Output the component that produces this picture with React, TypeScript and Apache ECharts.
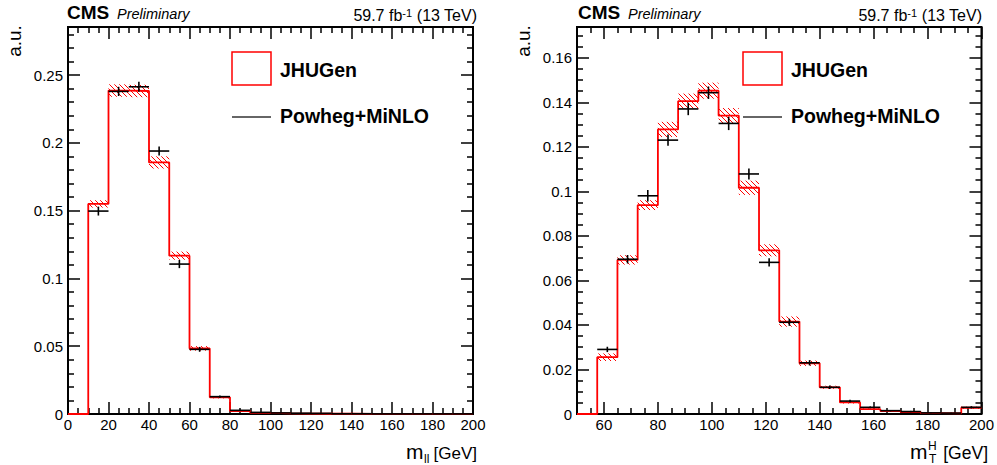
import React, { useEffect, useRef } from 'react';
import * as echarts from 'echarts';

const FONT = '"Liberation Sans", Arial, Helvetica, sans-serif';

// ---------- Left panel: m_ll ----------
const mllEdges = [0, 10, 20, 30, 40, 50, 60, 70, 80, 90, 100, 110, 120, 130, 140, 150, 160, 170, 180, 190, 200];
const mllJhu = [0, 0.155, 0.2386, 0.2383, 0.1856, 0.1168, 0.0484, 0.0123, 0.0022, 0.0008, 0.0004, 0.0003, 0.0002, 0.0002, 0.0001, 0.0001, 0.0001, 0.0001, 0.0001, 0.0001];
const mllJhuErr = [0, 0.0027, 0.0046, 0.0046, 0.0045, 0.003, 0.0017, 0.0008, 0.0003, 0.0002, 0.0001, 0.0001, 0.0001, 0.0001, 0.0001, 0.0001, 0.0001, 0.0001, 0.0001, 0.0001];
const mllPowheg = [0, 0.1497, 0.238, 0.2414, 0.194, 0.1106, 0.0477, 0.0128, 0.0027, 0.0012, 0.0008, 0.0006, 0.0005, 0.0002, 0.0002, 0.0001, 0.0001, 0.0001, 0.0001, 0.0001];
const mllPowhegErr = [0, 0.0033, 0.0034, 0.0037, 0.0033, 0.003, 0.0018, 0.0009, 0.0004, 0.0003, 0.0002, 0.0002, 0.0002, 0.0001, 0.0001, 0.0001, 0.0001, 0.0001, 0.0001, 0.0001];
const mllXMajor = [0, 20, 40, 60, 80, 100, 120, 140, 160, 180, 200];
const mllXMinor = [5, 10, 15, 25, 30, 35, 45, 50, 55, 65, 70, 75, 85, 90, 95, 105, 110, 115, 125, 130, 135, 145, 150, 155, 165, 170, 175, 185, 190, 195];
const mllYMajor = [0, 0.05, 0.1, 0.15, 0.2, 0.25];
const mllYMinor = [0.01, 0.02, 0.03, 0.04, 0.06, 0.07, 0.08, 0.09, 0.11, 0.12, 0.13, 0.14, 0.16, 0.17, 0.18, 0.19, 0.21, 0.22, 0.23, 0.24, 0.26, 0.27, 0.28];
const mllYMax = 0.2855;

// ---------- Right panel: m_T^H ----------
const mthEdges = [50, 57.5, 65, 72.5, 80, 87.5, 95, 102.5, 110, 117.5, 125, 132.5, 140, 147.5, 155, 162.5, 170, 177.5, 185, 192.5, 200];
const mthJhu = [0, 0.0255, 0.0692, 0.0938, 0.1278, 0.1405, 0.1452, 0.134, 0.1016, 0.0735, 0.0415, 0.0228, 0.012, 0.0052, 0.0022, 0.0013, 0.0009, 0.0004, 0.0003, 0.0028];
const mthJhuErr = [0, 0.0017, 0.0021, 0.0022, 0.0034, 0.0034, 0.0036, 0.0034, 0.0032, 0.0027, 0.0023, 0.0012, 0.0007, 0.0005, 0.0003, 0.0002, 0.0002, 0.0001, 0.0001, 0.0005];
const mthPowheg = [0, 0.029, 0.0695, 0.098, 0.123, 0.137, 0.1443, 0.1305, 0.1078, 0.0681, 0.0412, 0.023, 0.012, 0.0058, 0.003, 0.0015, 0.0011, 0.0005, 0.0004, 0.003];
const mthPowhegErr = [0, 0.0012, 0.0019, 0.0026, 0.0025, 0.0028, 0.0028, 0.003, 0.0025, 0.0019, 0.0016, 0.0012, 0.0008, 0.0006, 0.0004, 0.0003, 0.0003, 0.0002, 0.0002, 0.0005];
const mthXMajor = [60, 80, 100, 120, 140, 160, 180, 200];
const mthXMinor = [55, 65, 70, 75, 85, 90, 95, 105, 110, 115, 125, 130, 135, 145, 150, 155, 165, 170, 175, 185, 190, 195];
const mthYMajor = [0, 0.02, 0.04, 0.06, 0.08, 0.1, 0.12, 0.14, 0.16];
const mthYMinor = [0.005, 0.01, 0.015, 0.025, 0.03, 0.035, 0.045, 0.05, 0.055, 0.065, 0.07, 0.075, 0.085, 0.09, 0.095, 0.105, 0.11, 0.115, 0.125, 0.13, 0.135, 0.145, 0.15, 0.155, 0.165, 0.17];
const mthYMax = 0.1738;

const legendLabels = ['JHUGen', 'Powheg+MiNLO'];

function makeAxes(dim: 'x' | 'y', gridIndex: number, min: number, max: number, major: number[], minor: number[], labelMargin: number) {
  const positions = dim === 'x' ? ['bottom', 'top'] : ['left', 'right'];
  const axes: any[] = [];
  positions.forEach((pos, pi) => {
    [true, false].forEach((isMajor) => {
      axes.push({
        type: 'value',
        gridIndex,
        min,
        max,
        position: pos,
        axisLine: { show: false, onZero: false },
        splitLine: { show: false },
        axisTick: {
          show: true,
          inside: true,
          length: isMajor ? 12 : 6,
          lineStyle: { color: '#000', width: 1.5 },
          customValues: isMajor ? major : minor,
        },
        axisLabel: {
          show: isMajor && pi === 0,
          customValues: major,
          fontSize: 15,
          fontFamily: FONT,
          color: '#000',
          margin: labelMargin,
          hideOverlap: false,
        },
      });
    });
  });
  return axes;
}

function hatchRender(params: any, api: any) {
  const x0 = api.value(0), x1 = api.value(1), v = api.value(2), e = api.value(3);
  const children: any[] = [];
  if (e > 0) {
    const pTL = api.coord([x0, v + e]);
    const pBR = api.coord([x1, Math.max(v - e, 0)]);
    const left = pTL[0], right = pBR[0], top = pTL[1], bottom = pBR[1];
    const s = 5;
    const cmin = Math.ceil((left - bottom) / s) * s;
    const cmax = right - top;
    for (let c = cmin; c <= cmax; c += s) {
      const xa = Math.max(left, top + c);
      const xb = Math.min(right, bottom + c);
      if (xb <= xa) continue;
      children.push({
        type: 'line',
        shape: { x1: xa, y1: xa - c, x2: xb, y2: xb - c },
        style: { stroke: '#ff0000', lineWidth: 1 },
      });
    }
  }
  return { type: 'group', children };
}

function crossRender(params: any, api: any) {
  const x0 = api.value(0), x1 = api.value(1), v = api.value(2), e = api.value(3);
  const children: any[] = [];
  if (v > 0) {
    const a = api.coord([x0, v]);
    const b = api.coord([x1, v]);
    const xc = (x0 + x1) / 2;
    const t = api.coord([xc, v + e]);
    const bt = api.coord([xc, v - e]);
    const st = { stroke: '#000', lineWidth: 1.6 };
    children.push({ type: 'line', shape: { x1: a[0], y1: a[1], x2: b[0], y2: b[1] }, style: st });
    if (Math.abs(bt[1] - t[1]) > 0.5) {
      children.push({ type: 'line', shape: { x1: t[0], y1: t[1], x2: bt[0], y2: bt[1] }, style: st });
    }
  }
  return { type: 'group', children };
}

function panelSeries(axisIndex: number, edges: number[], jhu: number[], jhuErr: number[], pw: number[], pwErr: number[]) {
  const binData = (vals: number[], errs: number[]) => vals.map((v, i) => [edges[i], edges[i + 1], v, errs[i]]);
  const stepData = edges.map((x, i) => [x, jhu[Math.min(i, jhu.length - 1)]]);
  return [
    {
      type: 'custom',
      name: legendLabels[0] + ' band',
      xAxisIndex: axisIndex,
      yAxisIndex: axisIndex,
      renderItem: hatchRender,
      encode: { x: [0, 1], y: 2 },
      data: binData(jhu, jhuErr),
      z: 2,
      silent: true,
    },
    {
      type: 'line',
      name: legendLabels[0],
      xAxisIndex: axisIndex,
      yAxisIndex: axisIndex,
      step: 'end',
      symbol: 'none',
      showSymbol: false,
      data: stepData,
      lineStyle: { color: '#ff0000', width: 1.8 },
      z: 3,
      silent: true,
    },
    {
      type: 'custom',
      name: legendLabels[1],
      xAxisIndex: axisIndex,
      yAxisIndex: axisIndex,
      renderItem: crossRender,
      encode: { x: [0, 1], y: 2 },
      data: binData(pw, pwErr),
      z: 4,
      silent: true,
    },
  ];
}

function txt(x: number, y: number, text: string, size: number, opts: any = {}) {
  const align = opts.align || 'left';
  return {
    type: 'text',
    x,
    y,
    rotation: opts.rotation || 0,
    z: 10,
    style: {
      text,
      fontSize: size,
      fontFamily: FONT,
      fontWeight: opts.bold ? 'bold' : 'normal',
      fontStyle: opts.italic ? 'italic' : 'normal',
      fill: opts.fill || '#000',
      align,
      textAlign: align,
      verticalAlign: 'middle',
      textVerticalAlign: 'middle',
      rich: opts.rich,
    },
  };
}

function panelGraphics(dx: number, lumiRight: number, auX: number) {
  const lumiRich = {
    a: { fontSize: 16, fontFamily: FONT, fill: '#000' },
    s: { fontSize: 11, fontFamily: FONT, fill: '#000', verticalAlign: 'top' },
  };
  return [
    txt(67 + dx, 12.4, 'CMS', 19, { bold: true }),
    txt(117 + dx, 14.2, 'Preliminary', 14.5, { italic: true }),
    txt(lumiRight, 15, '{a|59.7 fb}{s|-1}{a| (13 TeV)}', 16, { align: 'right', rich: lumiRich }),
    txt(auX, 41, 'a.u.', 19, { align: 'center', rotation: Math.PI / 2 }),
    {
      type: 'rect',
      z: 10,
      shape: { x: 232 + dx, y: 52, width: 39, height: 33 },
      style: { fill: 'rgba(255,255,255,0)', stroke: '#ff0000', lineWidth: 1.5 },
    },
    txt(280 + dx, 69.7, legendLabels[0], 19.5, { bold: true }),
    {
      type: 'line',
      z: 10,
      shape: { x1: 232 + dx, y1: 117, x2: 271 + dx, y2: 117 },
      style: { stroke: '#333', lineWidth: 1.5 },
    },
    txt(280 + dx, 116, legendLabels[1], 19.5, { bold: true }),
  ];
}

export default function App() {
  const ref = useRef<HTMLDivElement>(null);
  useEffect(() => {
    if (!ref.current) return;
    const chart = echarts.init(ref.current, undefined, { renderer: 'svg' });
    const gridStyle = { show: true, borderColor: '#000', borderWidth: 2, backgroundColor: 'rgba(0,0,0,0)' };
    const option: any = {
      animation: false,
      backgroundColor: '#fff',
      grid: [
        { left: 68, top: 27, width: 405, height: 387, ...gridStyle },
        { left: 577, top: 27, width: 406, height: 387, ...gridStyle },
      ],
      xAxis: [
        ...makeAxes('x', 0, 0, 200, mllXMajor, mllXMinor, 3),
        ...makeAxes('x', 1, 50, 200, mthXMajor, mthXMinor, 3),
      ],
      yAxis: [
        ...makeAxes('y', 0, 0, mllYMax, mllYMajor, mllYMinor, 5),
        ...makeAxes('y', 1, 0, mthYMax, mthYMajor, mthYMinor, 5),
      ],
      series: [
        ...panelSeries(0, mllEdges, mllJhu, mllJhuErr, mllPowheg, mllPowhegErr),
        ...panelSeries(4, mthEdges, mthJhu, mthJhuErr, mthPowheg, mthPowhegErr),
      ],
      graphic: [
        ...panelGraphics(0, 477, 14),
        ...panelGraphics(511, 982, 523.5),
        // x-axis titles
        txt(406, 451.5, 'm', 21),
        txt(424, 458.5, 'll', 12),
        txt(477, 453, '[GeV]', 17, { align: 'right' }),
        txt(910, 451.5, 'm', 21),
        txt(928, 446, 'H', 12),
        txt(929, 458.5, 'T', 12),
        txt(988, 453, '[GeV]', 17.5, { align: 'right' }),
      ],
    };
    chart.setOption(option);
    return () => chart.dispose();
  }, []);
  return (
    <div
      ref={ref}
      style={{ position: 'fixed', left: 0, top: 0, width: 997, height: 465, background: '#fff' }}
    />
  );
}
